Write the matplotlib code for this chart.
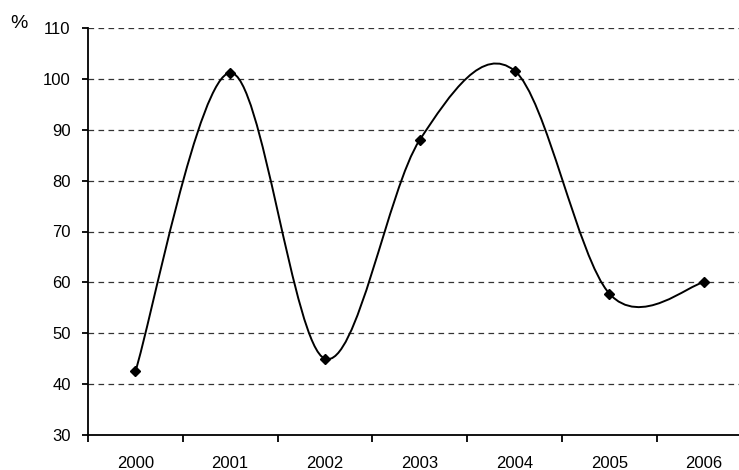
import matplotlib
matplotlib.use("Agg")
import matplotlib.pyplot as plt
import numpy as np
from matplotlib.path import Path
from matplotlib.patches import PathPatch

plt.rcParams['font.family'] = ['Liberation Sans', 'DejaVu Sans']

years = ['2000', '2001', '2002', '2003', '2004', '2005', '2006']
values = [42.5, 101.2, 45.0, 88.0, 101.6, 57.8, 60.0]
y_ticks = [30, 40, 50, 60, 70, 80, 90, 100, 110]

x = np.arange(len(years), dtype=float)
y = np.array(values, dtype=float)

fig = plt.figure(figsize=(7.39, 4.70), dpi=100)
ax = fig.add_axes([88 / 739, 1 - 435 / 470, 663.5 / 739, (435 - 28) / 470])

# Excel-style smoothed line (cubic Bezier, tension 1/6)
verts = [(x[0], y[0])]
codes = [Path.MOVETO]
n = len(x)
for i in range(n - 1):
    p0 = np.array([x[max(i - 1, 0)], y[max(i - 1, 0)]])
    p1 = np.array([x[i], y[i]])
    p2 = np.array([x[i + 1], y[i + 1]])
    p3 = np.array([x[min(i + 2, n - 1)], y[min(i + 2, n - 1)]])
    c1 = p1 + (p2 - p0) / 6
    c2 = p2 - (p3 - p1) / 6
    verts += [tuple(c1), tuple(c2), tuple(p2)]
    codes += [Path.CURVE4] * 3
ax.add_patch(PathPatch(Path(verts, codes), facecolor='none', edgecolor='black', lw=1.4, zorder=3))
ax.plot(x, y, linestyle='none', marker='D', markersize=5.5, color='black', zorder=4)

ax.set_xlim(-0.5, len(years) - 0.5)
ax.set_ylim(30, 110)
ax.set_yticks(y_ticks)
ax.set_yticklabels([str(v) for v in y_ticks], fontsize=12)
for v in y_ticks[1:]:
    ax.axhline(v, color='0.2', lw=0.9, dashes=(4.5, 3.5), zorder=1)

ax.set_xticks(np.arange(-0.5, len(years), 1.0))
ax.set_xticklabels([])
ax.set_xticks(x, minor=True)
ax.set_xticklabels(years, minor=True, fontsize=12)
ax.tick_params(axis='x', which='major', direction='out', length=5, width=1.3)
ax.tick_params(axis='x', which='minor', length=0, pad=15)
ax.tick_params(axis='y', direction='out', length=4.5, width=1.3, pad=8)

for s in ['top', 'right']:
    ax.spines[s].set_visible(False)
for s in ['left', 'bottom']:
    ax.spines[s].set_linewidth(1.3)

fig.text(19 / 739, 1 - 23 / 470, '%', fontsize=14, ha='center', va='center')

fig.savefig('out.png', dpi=100)
